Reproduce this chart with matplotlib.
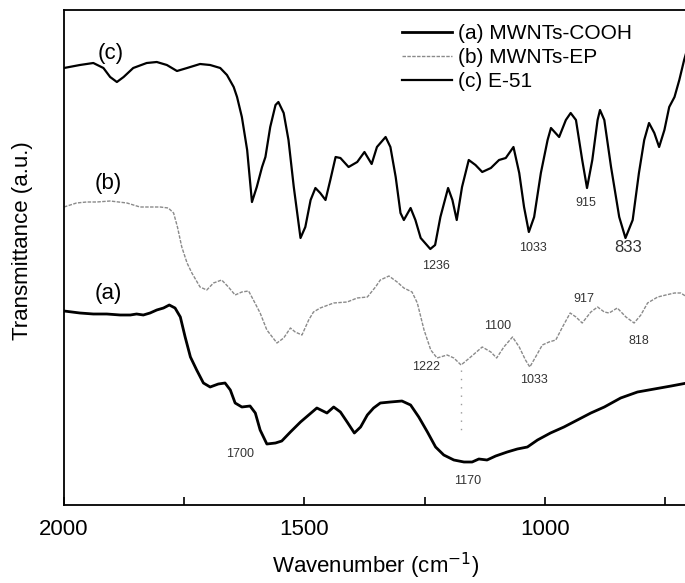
import matplotlib
matplotlib.use("Agg")
import matplotlib.pyplot as plt
from matplotlib.ticker import FixedLocator

plt.rcParams['font.family'] = ['Liberation Sans', 'DejaVu Sans']

# ---- data (wavenumber in cm^-1, transmittance in arbitrary offset units) ----
wn_c = [2000, 1967, 1939, 1918, 1904, 1890, 1876, 1856, 1828, 1807, 1786, 1765, 1744, 1717, 1696,
        1675, 1661, 1647, 1640, 1630, 1619, 1609, 1599, 1588, 1581, 1571, 1560, 1554, 1543, 1533,
        1522, 1508, 1498, 1487, 1477, 1467, 1456, 1446, 1435, 1425, 1408, 1390, 1375, 1360, 1349,
        1331, 1321, 1310, 1300, 1293, 1279, 1269, 1258, 1238, 1228, 1217, 1201, 1192, 1183, 1172,
        1158, 1144, 1130, 1112, 1095, 1081, 1065, 1053, 1043, 1033, 1022, 1008, 994, 987, 970,
        956, 946, 935, 922, 912, 901, 890, 885, 876, 862, 845, 832, 817, 804, 793, 783, 772,
        762, 751, 741, 730, 720, 710, 704]
t_c = [4.37, 4.40, 4.42, 4.37, 4.28, 4.23, 4.28, 4.37, 4.42, 4.43, 4.40, 4.34, 4.37, 4.41, 4.40,
       4.37, 4.30, 4.18, 4.08, 3.88, 3.55, 3.03, 3.18, 3.38, 3.48, 3.78, 4.00, 4.03, 3.92, 3.65,
       3.18, 2.67, 2.78, 3.05, 3.17, 3.12, 3.05, 3.25, 3.48, 3.47, 3.38, 3.43, 3.53, 3.41, 3.58,
       3.68, 3.58, 3.28, 2.92, 2.85, 2.97, 2.85, 2.67, 2.56, 2.60, 2.88, 3.17, 3.05, 2.85, 3.18,
       3.45, 3.40, 3.33, 3.37, 3.45, 3.47, 3.58, 3.32, 2.98, 2.73, 2.88, 3.32, 3.65, 3.77, 3.68,
       3.85, 3.92, 3.85, 3.45, 3.17, 3.45, 3.85, 3.95, 3.85, 3.38, 2.88, 2.67, 2.85, 3.32, 3.65,
       3.82, 3.72, 3.58, 3.75, 3.98, 4.08, 4.25, 4.45, 4.55]

wn_b = [2000, 1974, 1953, 1932, 1904, 1869, 1842, 1821, 1800, 1783, 1772, 1764, 1755, 1744, 1734,
        1717, 1703, 1689, 1672, 1658, 1644, 1630, 1616, 1606, 1592, 1578, 1557, 1543, 1529, 1519,
        1505, 1491, 1481, 1467, 1439, 1411, 1390, 1369, 1352, 1342, 1324, 1307, 1293, 1276, 1265,
        1251, 1237, 1224, 1203, 1189, 1174, 1154, 1130, 1112, 1100, 1085, 1067, 1053, 1040, 1031,
        1019, 1005, 991, 977, 963, 947, 935, 922, 904, 890, 876, 866, 849, 831, 814, 800, 786,
        765, 748, 730, 717, 704]
t_b = [2.98, 3.02, 3.03, 3.03, 3.04, 3.02, 2.98, 2.98, 2.98, 2.97, 2.92, 2.78, 2.58, 2.42, 2.32,
       2.18, 2.15, 2.22, 2.25, 2.18, 2.10, 2.13, 2.14, 2.05, 1.92, 1.75, 1.62, 1.67, 1.77, 1.73,
       1.70, 1.85, 1.93, 1.97, 2.02, 2.03, 2.07, 2.08, 2.18, 2.25, 2.29, 2.23, 2.17, 2.13, 2.02,
       1.75, 1.55, 1.47, 1.50, 1.47, 1.40, 1.48, 1.58, 1.53, 1.47, 1.58, 1.68, 1.58, 1.45, 1.38,
       1.48, 1.60, 1.63, 1.65, 1.78, 1.92, 1.88, 1.82, 1.93, 1.98, 1.93, 1.92, 1.97, 1.88, 1.82,
       1.90, 2.02, 2.08, 2.10, 2.12, 2.12, 2.08]

wn_a = [2000, 1967, 1939, 1911, 1883, 1862, 1849, 1835, 1821, 1807, 1793, 1781, 1769, 1758, 1748,
        1737, 1724, 1710, 1696, 1679, 1665, 1654, 1644, 1630, 1613, 1602, 1592, 1578, 1560, 1547,
        1529, 1508, 1491, 1474, 1453, 1439, 1425, 1411, 1396, 1383, 1369, 1356, 1342, 1321, 1297,
        1279, 1262, 1244, 1227, 1210, 1189, 1168, 1151, 1137, 1120, 1102, 1078, 1057, 1036, 1015,
        988, 960, 932, 904, 876, 842, 807, 772, 737, 704]
t_a = [1.94, 1.92, 1.91, 1.91, 1.90, 1.90, 1.91, 1.90, 1.92, 1.95, 1.97, 2.00, 1.97, 1.88, 1.68,
       1.48, 1.35, 1.22, 1.18, 1.21, 1.22, 1.15, 1.02, 0.98, 0.99, 0.92, 0.75, 0.61, 0.62, 0.64,
       0.73, 0.83, 0.90, 0.97, 0.92, 0.98, 0.93, 0.83, 0.72, 0.78, 0.90, 0.97, 1.02, 1.03, 1.04,
       1.00, 0.88, 0.73, 0.58, 0.50, 0.45, 0.43, 0.43, 0.46, 0.45, 0.49, 0.53, 0.56, 0.58, 0.65,
       0.72, 0.78, 0.85, 0.92, 0.98, 1.07, 1.13, 1.16, 1.19, 1.22]

series_labels = ['(a) MWNTs-COOH', '(b) MWNTs-EP', '(c) E-51']
curve_tags = ['(a)', '(b)', '(c)']
peak_labels_c = ['1236', '1033', '915', '833']
peak_labels_b = ['1222', '1100', '1033', '917', '818']
peak_labels_a = ['1700', '1170']
x_ticks = [2000, 1500, 1000]
x_minor = [1750, 1250, 750]

# ---- figure ----
fig = plt.figure(figsize=(6.85, 5.83), dpi=100)
ax = fig.add_axes([64 / 685, 1 - 505 / 583, 623 / 685, 495 / 583])

la, = ax.plot(wn_a, t_a, color='black', lw=2.0, label=series_labels[0])
lb, = ax.plot(wn_b, t_b, color='#8a8a8a', lw=1.0, ls=(0, (2.5, 1)), label=series_labels[1])
lc, = ax.plot(wn_c, t_c, color='black', lw=1.6, label=series_labels[2])

# dotted guide between (b) and (a) near 1170
ax.plot([1175, 1175], [1.35, 0.73], color='#9a9a9a', lw=1.0, ls=(0, (1, 5)))

ax.set_xlim(2000, 704)
ax.set_ylim(0, 4.95)

ax.xaxis.set_major_locator(FixedLocator(x_ticks))
ax.xaxis.set_minor_locator(FixedLocator(x_minor))
ax.set_xticklabels([str(v) for v in x_ticks])
ax.set_yticks([])
ax.tick_params(axis='x', which='both', direction='in', length=6, width=1.2,
               labelsize=16, pad=10, top=False)

for s in ax.spines.values():
    s.set_linewidth(1.3)

ax.set_xlabel('Wavenumber (cm$^{-1}$)', fontsize=16, labelpad=8)
ax.set_ylabel('Transmittance (a.u.)', fontsize=16)
ax.yaxis.set_label_coords(-0.05, 0.535)

# curve tags
tag_pos = [(1908, 2.12), (1908, 3.22), (1902, 4.51)]
for t, (x, y) in zip(curve_tags, tag_pos):
    ax.text(x, y, t, fontsize=16, ha='center', va='center')

# peak labels
pk_c_pos = [(1227, 2.39), (1025, 2.57), (915, 3.02), (827, 2.57)]
pk_c_size = [9, 9, 9, 12]
for t, (x, y), fs in zip(peak_labels_c, pk_c_pos, pk_c_size):
    ax.text(x, y, t, fontsize=fs, ha='center', va='center', color='#333333')
pk_b_pos = [(1246, 1.38), (1098, 1.79), (1023, 1.25), (919, 2.06), (804, 1.64)]
for t, (x, y) in zip(peak_labels_b, pk_b_pos):
    ax.text(x, y, t, fontsize=9, ha='center', va='center', color='#333333')
pk_a_pos = [(1633, 0.51), (1160, 0.24)]
for t, (x, y) in zip(peak_labels_a, pk_a_pos):
    ax.text(x, y, t, fontsize=9, ha='center', va='center', color='#333333')

leg = ax.legend(handles=[la, lb, lc], loc='upper left',
                bbox_to_anchor=((402 - 64) / 623, (505 - 24) / 495),
                frameon=False, fontsize=15, handlelength=2.4, handletextpad=0.3,
                labelspacing=0.25, borderpad=0, borderaxespad=0)

fig.savefig('out.png', dpi=100)
